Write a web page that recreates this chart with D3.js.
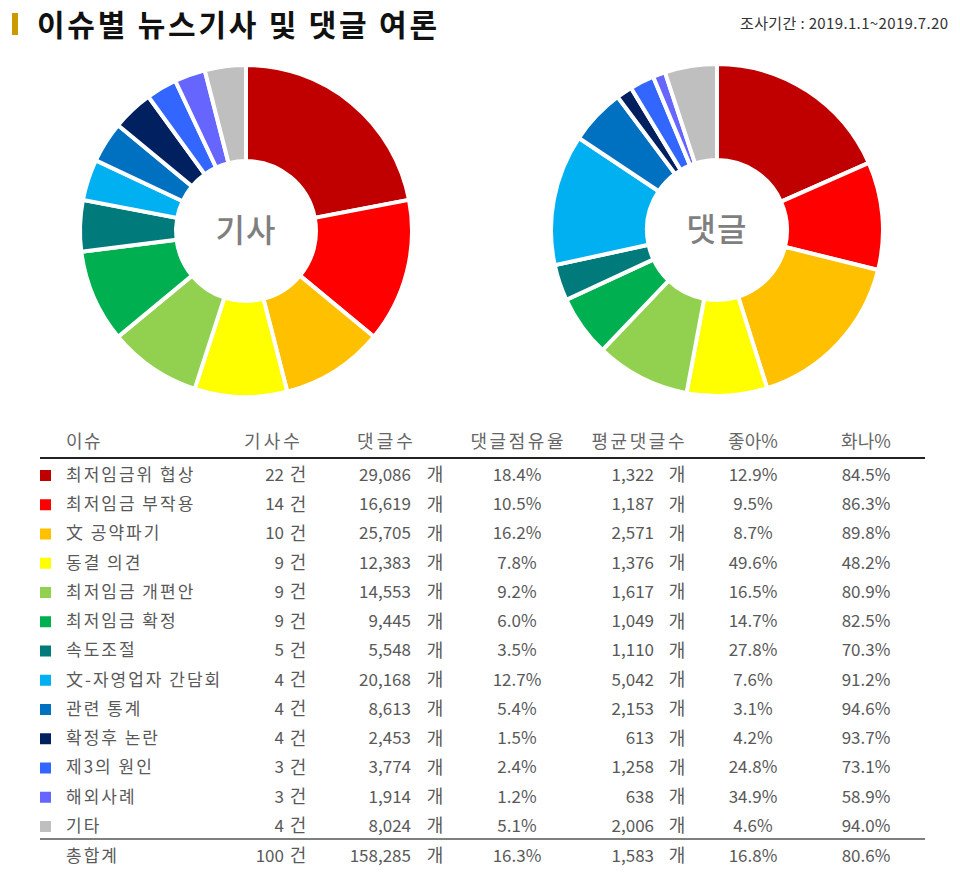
<!DOCTYPE html>
<html><head><meta charset="utf-8">
<script src="https://cdn.jsdelivr.net/npm/d3@7"></script>
<style>body{margin:0;background:#fff;}svg{display:block;font-family:"Noto Sans CJK KR","Noto Sans",sans-serif;}</style>
</head><body><svg id="c" width="960" height="876"></svg>
<script>
const issues = ["최저임금위 협상","최저임금 부작용","文 공약파기","동결 의견","최저임금 개편안","최저임금 확정","속도조절","文-자영업자 간담회","관련 통계","확정후 논란","제3의 원인","해외사례","기타"];
const articles = [22,14,10,9,9,9,5,4,4,4,3,3,4];
const comments = [29086,16619,25705,12383,14553,9445,5548,20168,8613,2453,3774,1914,8024];
const shareLabels = ["18.4%","10.5%","16.2%","7.8%","9.2%","6.0%","3.5%","12.7%","5.4%","1.5%","2.4%","1.2%","5.1%"];
const avgComments = [1322,1187,2571,1376,1617,1049,1110,5042,2153,613,1258,638,2006];
const likePct = ["12.9%","9.5%","8.7%","49.6%","16.5%","14.7%","27.8%","7.6%","3.1%","4.2%","24.8%","34.9%","4.6%"];
const angryPct = ["84.5%","86.3%","89.8%","48.2%","80.9%","82.5%","70.3%","91.2%","94.6%","93.7%","73.1%","58.9%","94.0%"];
const colors = ["#C00000","#FF0000","#FFC000","#FFFF00","#92D050","#00B050","#007A7A","#00B0F0","#0070C0","#002060","#3366FF","#6666FF","#BFBFBF"];
const totals = {label:"총합계", articles:100, comments:158285, share:"16.3%", avg:1583, like:"16.8%", angry:"80.6%"};
const headers = ["이슈","기사수","댓글수","댓글점유율","평균댓글수","좋아%","화나%"];

const svg = d3.select("#c");
const fmt = d3.format(",");
const txt = "#595959";

// Title
svg.append("rect").attr("x",12).attr("y",13).attr("width",6).attr("height",22).attr("fill","#CC9900");
svg.append("text").attr("x",37).attr("y",36).attr("font-size",30).attr("font-weight","bold").attr("fill","#111")
  .attr("textLength",400).attr("lengthAdjust","spacing").text("이슈별 뉴스기사 및 댓글 여론");
svg.append("text").attr("x",948).attr("y",29).attr("text-anchor","end").attr("font-size",15).attr("fill","#333")
  .attr("textLength",208).attr("lengthAdjust","spacing").text("조사기간 : 2019.1.1~2019.7.20");

// Donuts
const pie = d3.pie().sort(null).value(d=>d);
const arc = d3.arc().innerRadius(70).outerRadius(166);
function donut(vals, cx, cy, label){
  const g = svg.append("g").attr("transform",`translate(${cx},${cy})`);
  g.selectAll("path").data(pie(vals)).join("path")
    .attr("d",arc).attr("fill",(d,i)=>colors[i])
    .attr("stroke","#fff").attr("stroke-width",4).attr("stroke-linejoin","miter");
  g.append("text").attr("text-anchor","middle").attr("dy","0.35em").attr("font-size",32)
    .attr("font-weight",500).attr("fill","#7f7f7f").attr("letter-spacing",1).text(label);
}
donut(articles, 246, 231, "기사");
donut(comments, 717, 230, "댓글");

// Table
const y = d3.scaleLinear().domain([0,1]).range([475,504.25]);
const hdrY = 442;
const hx = [66,272,385,517,638,753,866];
headers.forEach((h,i)=>{
  const t = svg.append("text").attr("x",hx[i]).attr("y",hdrY).attr("dy","0.35em")
    .attr("text-anchor",i===0?"start":"middle").attr("font-size",18).attr("fill","#666").text(h);
  if (i>0) t.attr("textLength", h.length*18.6 - (h.includes("%")?6:0)).attr("lengthAdjust","spacing");
  else t.attr("letter-spacing",1.5);
});
svg.append("line").attr("x1",40).attr("x2",925).attr("y1",458).attr("y2",458).attr("stroke","#222").attr("stroke-width",2);

function row(g, yy, name, art, com, share, avg, like, angry){
  const t = (x,s,anchor)=>g.append("text").attr("x",x).attr("y",yy).attr("dy","0.35em")
    .attr("text-anchor",anchor).attr("font-size",17).attr("fill",txt).text(s);
  t(66,name,"start").attr("letter-spacing",2);
  t(284,art,"end"); t(298,"건","middle").attr("font-size",18);
  t(411,fmt(com),"end"); t(435,"개","middle").attr("font-size",18);
  t(517,share,"middle");
  t(654,fmt(avg),"end"); t(677,"개","middle").attr("font-size",18);
  t(753,like,"middle");
  t(866,angry,"middle");
}
const tg = svg.append("g");
issues.forEach((n,i)=>{
  const yy = y(i);
  tg.append("rect").attr("x",40).attr("y",yy-5).attr("width",11).attr("height",11).attr("fill",colors[i]);
  row(tg, yy, n, articles[i], comments[i], shareLabels[i], avgComments[i], likePct[i], angryPct[i]);
});
svg.append("line").attr("x1",40).attr("x2",925).attr("y1",839).attr("y2",839).attr("stroke","#7f7f7f").attr("stroke-width",2);
row(tg, 856, totals.label, totals.articles, totals.comments, totals.share, totals.avg, totals.like, totals.angry);
</script></body></html>
